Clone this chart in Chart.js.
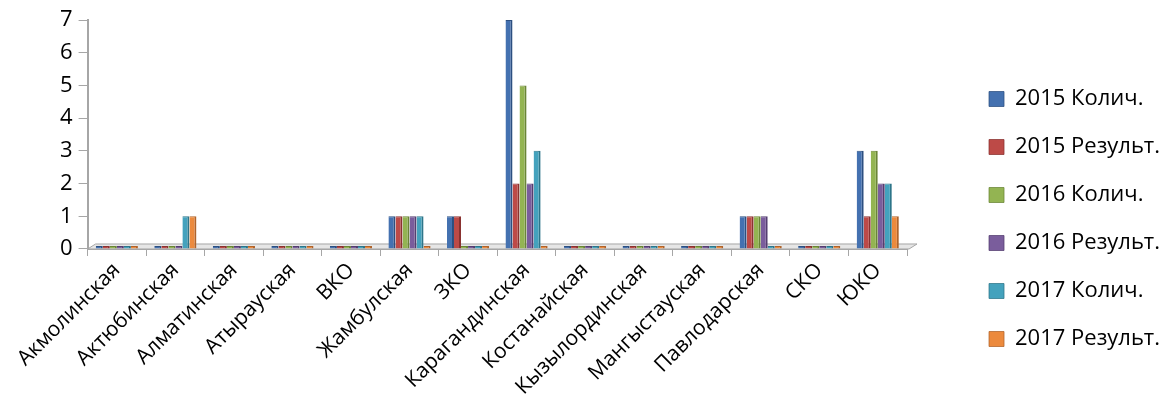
<!DOCTYPE html>
<html lang="ru">
<head>
  <meta charset="utf-8">
  <title>Регионы 2015-2017</title>
  <script src="https://cdn.jsdelivr.net/npm/chart.js@4.4.0/dist/chart.umd.min.js"></script>
  <style>
    html, body { margin: 0; padding: 0; background: #fff; }
    #wrap { width: 1163px; height: 419px; }
  </style>
</head>
<body>
  <div id="wrap"><canvas id="chart" width="1163" height="419"></canvas></div>
  <script>
    var regions = ["Акмолинская", "Актюбинская", "Алматинская", "Атырауская", "ВКО",
      "Жамбулская", "ЗКО", "Карагандинская", "Костанайская", "Кызылординская",
      "Мангыстауская", "Павлодарская", "СКО", "ЮКО"];

    var kol2015 = [0, 0, 0, 0, 0, 1, 1, 7, 0, 0, 0, 1, 0, 3];
    var res2015 = [0, 0, 0, 0, 0, 1, 1, 2, 0, 0, 0, 1, 0, 1];
    var kol2016 = [0, 0, 0, 0, 0, 1, 0, 5, 0, 0, 0, 1, 0, 3];
    var res2016 = [0, 0, 0, 0, 0, 1, 0, 2, 0, 0, 0, 1, 0, 2];
    var kol2017 = [0, 1, 0, 0, 0, 1, 0, 3, 0, 0, 0, 0, 0, 2];
    var res2017 = [0, 1, 0, 0, 0, 0, 0, 0, 0, 0, 0, 0, 0, 1];

    var yTicks = [0, 1, 2, 3, 4, 5, 6, 7];

    var font = "'Open Sans', 'Noto Sans', sans-serif";

    function series(label, data, color, side) {
      return {
        label: label,
        data: data,
        backgroundColor: color,
        borderColor: side,
        borderWidth: { top: 1, right: 2, left: 0, bottom: 0 },
        borderSkipped: false,
        minBarLength: 3,
        categoryPercentage: 0.72,
        barPercentage: 1.0
      };
    }

    // thin grey floor under the bars, like the 3d chart in the picture
    var floorPlugin = {
      id: "floor",
      beforeDatasetsDraw: function(chart) {
        var a = chart.chartArea, y0 = chart.scales.y.getPixelForValue(0);
        var c = chart.ctx;
        c.save();
        c.fillStyle = "#e6e6e6";
        c.strokeStyle = "#a6a6a6";
        c.lineWidth = 1;
        c.beginPath();
        c.moveTo(a.left, y0);
        c.lineTo(a.left + 8, y0 - 5);
        c.lineTo(a.right + 10, y0 - 5);
        c.lineTo(a.right + 2, y0);
        c.closePath();
        c.fill();
        c.stroke();
        c.restore();
      }
    };

    // give the legend some room on its left side, and drop it a little
    var legendGap = 49;
    var legendShiftX = 56;
    var legendDrop = 8;
    var legendShift = {
      id: "legendShift",
      beforeLayout: function(chart) {
        var lg = chart.legend;
        if (lg && !lg._gapPatched) {
          var fit = lg.fit;
          lg.fit = function() {
            fit.call(this);
            this.width += legendGap;
          };
          lg._gapPatched = true;
        }
      },
      afterLayout: function(chart) {
        if (chart.legend) {
          chart.legend.left += legendShiftX;
          chart.legend.right = chart.width;
          chart.legend.top += legendDrop;
          chart.legend.bottom += legendDrop;
        }
      }
    };

    new Chart(document.getElementById("chart"), {
      type: "bar",
      data: {
        labels: regions,
        datasets: [
          series("2015 Колич.", kol2015, "#4471b0", "#2c4f80"),
          series("2015 Результ.", res2015, "#bd4a47", "#8a3230"),
          series("2016 Колич.", kol2016, "#93b452", "#6a8536"),
          series("2016 Результ.", res2016, "#7a5d9c", "#543e70"),
          series("2017 Колич.", kol2017, "#44a2bd", "#2d7589"),
          series("2017 Результ.", res2017, "#ec8a3d", "#b0632a")
        ]
      },
      options: {
        responsive: false,
        animation: false,
        layout: { padding: { left: 54, top: 20, bottom: 17, right: 0 } },
        plugins: {
          tooltip: { enabled: false },
          legend: {
            position: "right",
            labels: {
              font: { family: font, size: 22 },
              color: "#000",
              boxWidth: 15,
              boxHeight: 15,
              padding: 26
            }
          }
        },
        scales: {
          x: {
            grid: { drawOnChartArea: false, drawTicks: true, tickLength: 7, color: "#a6a6a6", offset: true },
            border: { display: true, color: "#a6a6a6", width: 2 },
            ticks: {
              font: { family: font, size: 21 },
              color: "#000",
              minRotation: 45,
              maxRotation: 45,
              autoSkip: false,
              padding: 2
            }
          },
          y: {
            min: 0,
            max: 7,
            afterBuildTicks: function(scale) {
              scale.ticks = yTicks.map(function(v) { return { value: v }; });
            },
            grid: { drawOnChartArea: false, drawTicks: true, tickLength: 9, color: "#a6a6a6" },
            border: { display: true, color: "#a6a6a6", width: 2 },
            ticks: {
              font: { family: font, size: 22 },
              color: "#000",
              padding: 6
            }
          }
        }
      },
      plugins: [floorPlugin, legendShift]
    });
  </script>
</body>
</html>
